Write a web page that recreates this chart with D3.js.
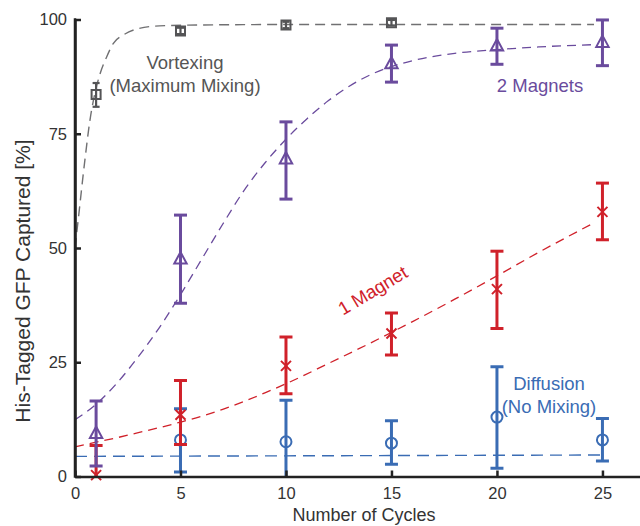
<!DOCTYPE html>
<html>
<head>
<meta charset="utf-8">
<script src="https://cdn.jsdelivr.net/npm/d3@7"></script>
<style>
  html, body { margin: 0; padding: 0; background: #fff; }
  #chart svg { display: block; font-family: "Liberation Sans", Arial, Helvetica, sans-serif; }
</style>
</head>
<body>
<div id="chart"></div>
<script>
// Capture efficiency vs number of cycles (4 mixing conditions + fitted dashed curves)

// ---------- Data ----------
const xTicks = [0, 5, 10, 15, 20, 25];
const yTicks = [0, 25, 50, 75, 100];

// Vortexing (maximum mixing)
const vortexCycles = [1, 5, 10, 15];
const vortexMean = [83.6, 97.5, 98.8, 99.3];
const vortexLow = [80.9, 96.8, 98.1, 98.7];
const vortexHigh = [86.1, 98.2, 99.5, 99.9];

// 2 magnets
const twoMagCycles = [1, 5, 10, 15, 20, 25];
const twoMagMean = [9.5, 47.7, 69.6, 90.4, 94.3, 95.1];
const twoMagLow = [2.3, 37.9, 60.7, 86.3, 90.2, 89.9];
const twoMagHigh = [16.5, 57.2, 77.6, 94.4, 98.1, 99.9];

// 1 magnet
const oneMagCycles = [1, 5, 10, 15, 20, 25];
const oneMagMean = [0.3, 13.5, 24.2, 31.3, 41.0, 57.9];
const oneMagLow = [-6.2, 7.0, 18.1, 26.6, 32.4, 51.8];
const oneMagHigh = [6.8, 21.0, 30.5, 35.8, 49.3, 64.2];

// Diffusion (no mixing)
const diffCycles = [5, 10, 15, 20, 25];
const diffMean = [8.0, 7.6, 7.3, 13.0, 8.0];
const diffLow = [1.0, -1.5, 2.7, 1.8, 3.4];
const diffHigh = [14.8, 16.7, 12.2, 24.0, 12.7];

// Fitted curves
const vortexFitX = [0, 0.16, 0.47, 0.71, 0.95, 1.18, 1.5, 1.82, 2.29, 2.92, 4, 6, 10, 24.6];
const vortexFitY = [50, 56.5, 69.3, 78, 84, 88, 91.8, 94.8, 96.6, 97.9, 98.6, 98.8, 98.9, 98.9];

const twoMagFitX = [0, 1, 2, 3, 4, 5, 6, 7, 8, 9, 10, 11, 12, 13, 14, 15, 16, 18, 20, 22, 24.6];
const twoMagFitY = [12.4, 15.8, 20.5, 26.2, 32.6, 39.8, 47.5, 55.2, 62.5, 68.6, 73.8, 78.3, 82.2, 85.4, 87.9, 89.7, 91.0, 92.6, 93.4, 94.0, 94.5];

const oneMagFitX = [0, 1, 2, 3, 4, 5, 6, 7, 8, 9, 10, 12, 14, 16, 18, 20, 22, 24.6];
const oneMagFitY = [6.5, 7.5, 8.5, 9.6, 10.7, 11.9, 13.2, 14.7, 16.4, 18.3, 20.3, 24.7, 29.2, 33.9, 38.8, 43.9, 49.1, 55.5];

const diffFitX = [0, 24.9];
const diffFitY = [4.4, 4.7];

// ---------- Colours ----------
const GREY = "#545456";
const PURPLE = "#6a4b9d";
const RED = "#d0212a";
const BLUE = "#3a6cb4";

// ---------- Layout ----------
const W = 640, H = 526;
const x = d3.scaleLinear().domain([0, 26.78]).range([75, 640]);
const y = d3.scaleLinear().domain([0, 100]).range([476.5, 19.5]);

const svg = d3.select("#chart").append("svg")
  .attr("width", W)
  .attr("height", H);

// clip so error bars going below zero stop at the axis
svg.append("defs").append("clipPath")
  .attr("id", "plot-clip")
  .append("rect")
  .attr("x", 0).attr("y", 0)
  .attr("width", W).attr("height", y(0));

const zip = (xs, ys) => xs.map((v, i) => [v, ys[i]]);

// ---------- Fitted curves ----------
const line = d3.line()
  .x(d => x(d[0]))
  .y(d => y(d[1]))
  .curve(d3.curveMonotoneX);

const fits = [
  { pts: zip(diffFitX, diffFitY), color: BLUE, dash: "12,7", w: 1.4 },
  { pts: zip(oneMagFitX, oneMagFitY), color: RED, dash: "9,6", w: 1.3 },
  { pts: zip(twoMagFitX, twoMagFitY), color: PURPLE, dash: "9,6", w: 1.3 },
  { pts: zip(vortexFitX, vortexFitY), color: "#707072", dash: "10,6", w: 1.4 }
];

svg.append("g").selectAll("path")
  .data(fits)
  .enter()
  .append("path")
  .attr("d", d => line(d.pts))
  .attr("fill", "none")
  .attr("stroke", d => d.color)
  .attr("stroke-width", d => d.w)
  .attr("stroke-dasharray", d => d.dash);

// ---------- Error bars + markers ----------
function drawSeries(cycles, mean, low, high, color, marker, cap, barW) {
  const rows = cycles.map((c, i) => ({ c, m: mean[i], lo: low[i], hi: high[i] }));
  const g = svg.append("g");

  const bars = g.append("g").attr("clip-path", "url(#plot-clip)");
  bars.selectAll(".stem")
    .data(rows)
    .enter()
    .append("line")
    .attr("x1", d => x(d.c)).attr("x2", d => x(d.c))
    .attr("y1", d => y(d.lo)).attr("y2", d => y(d.hi))
    .attr("stroke", color)
    .attr("stroke-width", barW);

  ["lo", "hi"].forEach(k => {
    bars.selectAll(".cap-" + k)
      .data(rows)
      .enter()
      .append("line")
      .attr("x1", d => x(d.c) - cap / 2).attr("x2", d => x(d.c) + cap / 2)
      .attr("y1", d => y(d[k])).attr("y2", d => y(d[k]))
      .attr("stroke", color)
      .attr("stroke-width", barW);
  });

  g.selectAll(".marker")
    .data(rows)
    .enter()
    .append("path")
    .attr("transform", d => `translate(${x(d.c)},${y(d.m)})`)
    .attr("d", marker)
    .attr("fill", "none")
    .attr("stroke", color)
    .attr("stroke-width", 2);
}

const triangle = "M0,-6.5L6.2,5L-6.2,5Z";
const cross = "M-5,-5L5,5M-5,5L5,-5";
const circle = d3.symbol().type(d3.symbolCircle).size(95)();
const square = "M-4.5,-4.5H4.5V4.5H-4.5Z";

drawSeries(diffCycles, diffMean, diffLow, diffHigh, BLUE, circle, 13, 3);
drawSeries(oneMagCycles, oneMagMean, oneMagLow, oneMagHigh, RED, cross, 13, 3);
drawSeries(twoMagCycles, twoMagMean, twoMagLow, twoMagHigh, PURPLE, triangle, 13, 3);
drawSeries(vortexCycles, vortexMean, vortexLow, vortexHigh, GREY, square, 7, 2.2);

// ---------- Axes ----------
const xAxis = svg.append("g")
  .attr("transform", `translate(0,${y(0)})`)
  .call(d3.axisBottom(x).tickValues(xTicks).tickSizeInner(-6).tickSizeOuter(0).tickPadding(11));

const yAxis = svg.append("g")
  .attr("transform", `translate(${x(0)},0)`)
  .call(d3.axisLeft(y).tickValues(yTicks).tickSizeInner(-6).tickSizeOuter(0).tickPadding(8));

[xAxis, yAxis].forEach(a => {
  a.select(".domain").attr("stroke", "#222").attr("stroke-width", 2.5);
  a.selectAll(".tick line").attr("stroke", "#222").attr("stroke-width", 2.5);
  a.selectAll(".tick text")
    .attr("fill", "#333")
    .style("font-size", "16.5px")
    .style("font-family", "'Liberation Sans', Arial, sans-serif");
});

// square corner at the 100 tick
svg.append("line")
  .attr("x1", x(0)).attr("x2", x(0))
  .attr("y1", y(100) - 1.25).attr("y2", y(0) + 1.25)
  .attr("stroke", "#222").attr("stroke-width", 2.5);

// Axis titles
svg.append("text")
  .attr("x", 364)
  .attr("y", 521)
  .attr("text-anchor", "middle")
  .attr("fill", "#333")
  .style("font-size", "18px")
  .text("Number of Cycles");

svg.append("text")
  .attr("transform", "translate(30,281) rotate(-90)")
  .attr("text-anchor", "middle")
  .attr("fill", "#333")
  .style("font-size", "21px")
  .text("His-Tagged GFP Captured [%]");

// ---------- Series labels ----------
function label(lines, cx, baseline, color, gap) {
  lines.forEach((t, i) => {
    svg.append("text")
      .attr("x", cx)
      .attr("y", baseline + i * gap)
      .attr("text-anchor", "middle")
      .attr("fill", color)
      .style("font-size", "18.5px")
      .text(t);
  });
}

label(["Vortexing", "(Maximum Mixing)"], 185, 69, "#555", 23);
label(["2 Magnets"], 540, 92, PURPLE, 0);
label(["Diffusion", "(No Mixing)"], 549, 390, BLUE, 23);

svg.append("text")
  .attr("transform", "translate(376,296) rotate(-31)")
  .attr("text-anchor", "middle")
  .attr("fill", RED)
  .style("font-size", "18.5px")
  .text("1 Magnet");
</script>
</body>
</html>
